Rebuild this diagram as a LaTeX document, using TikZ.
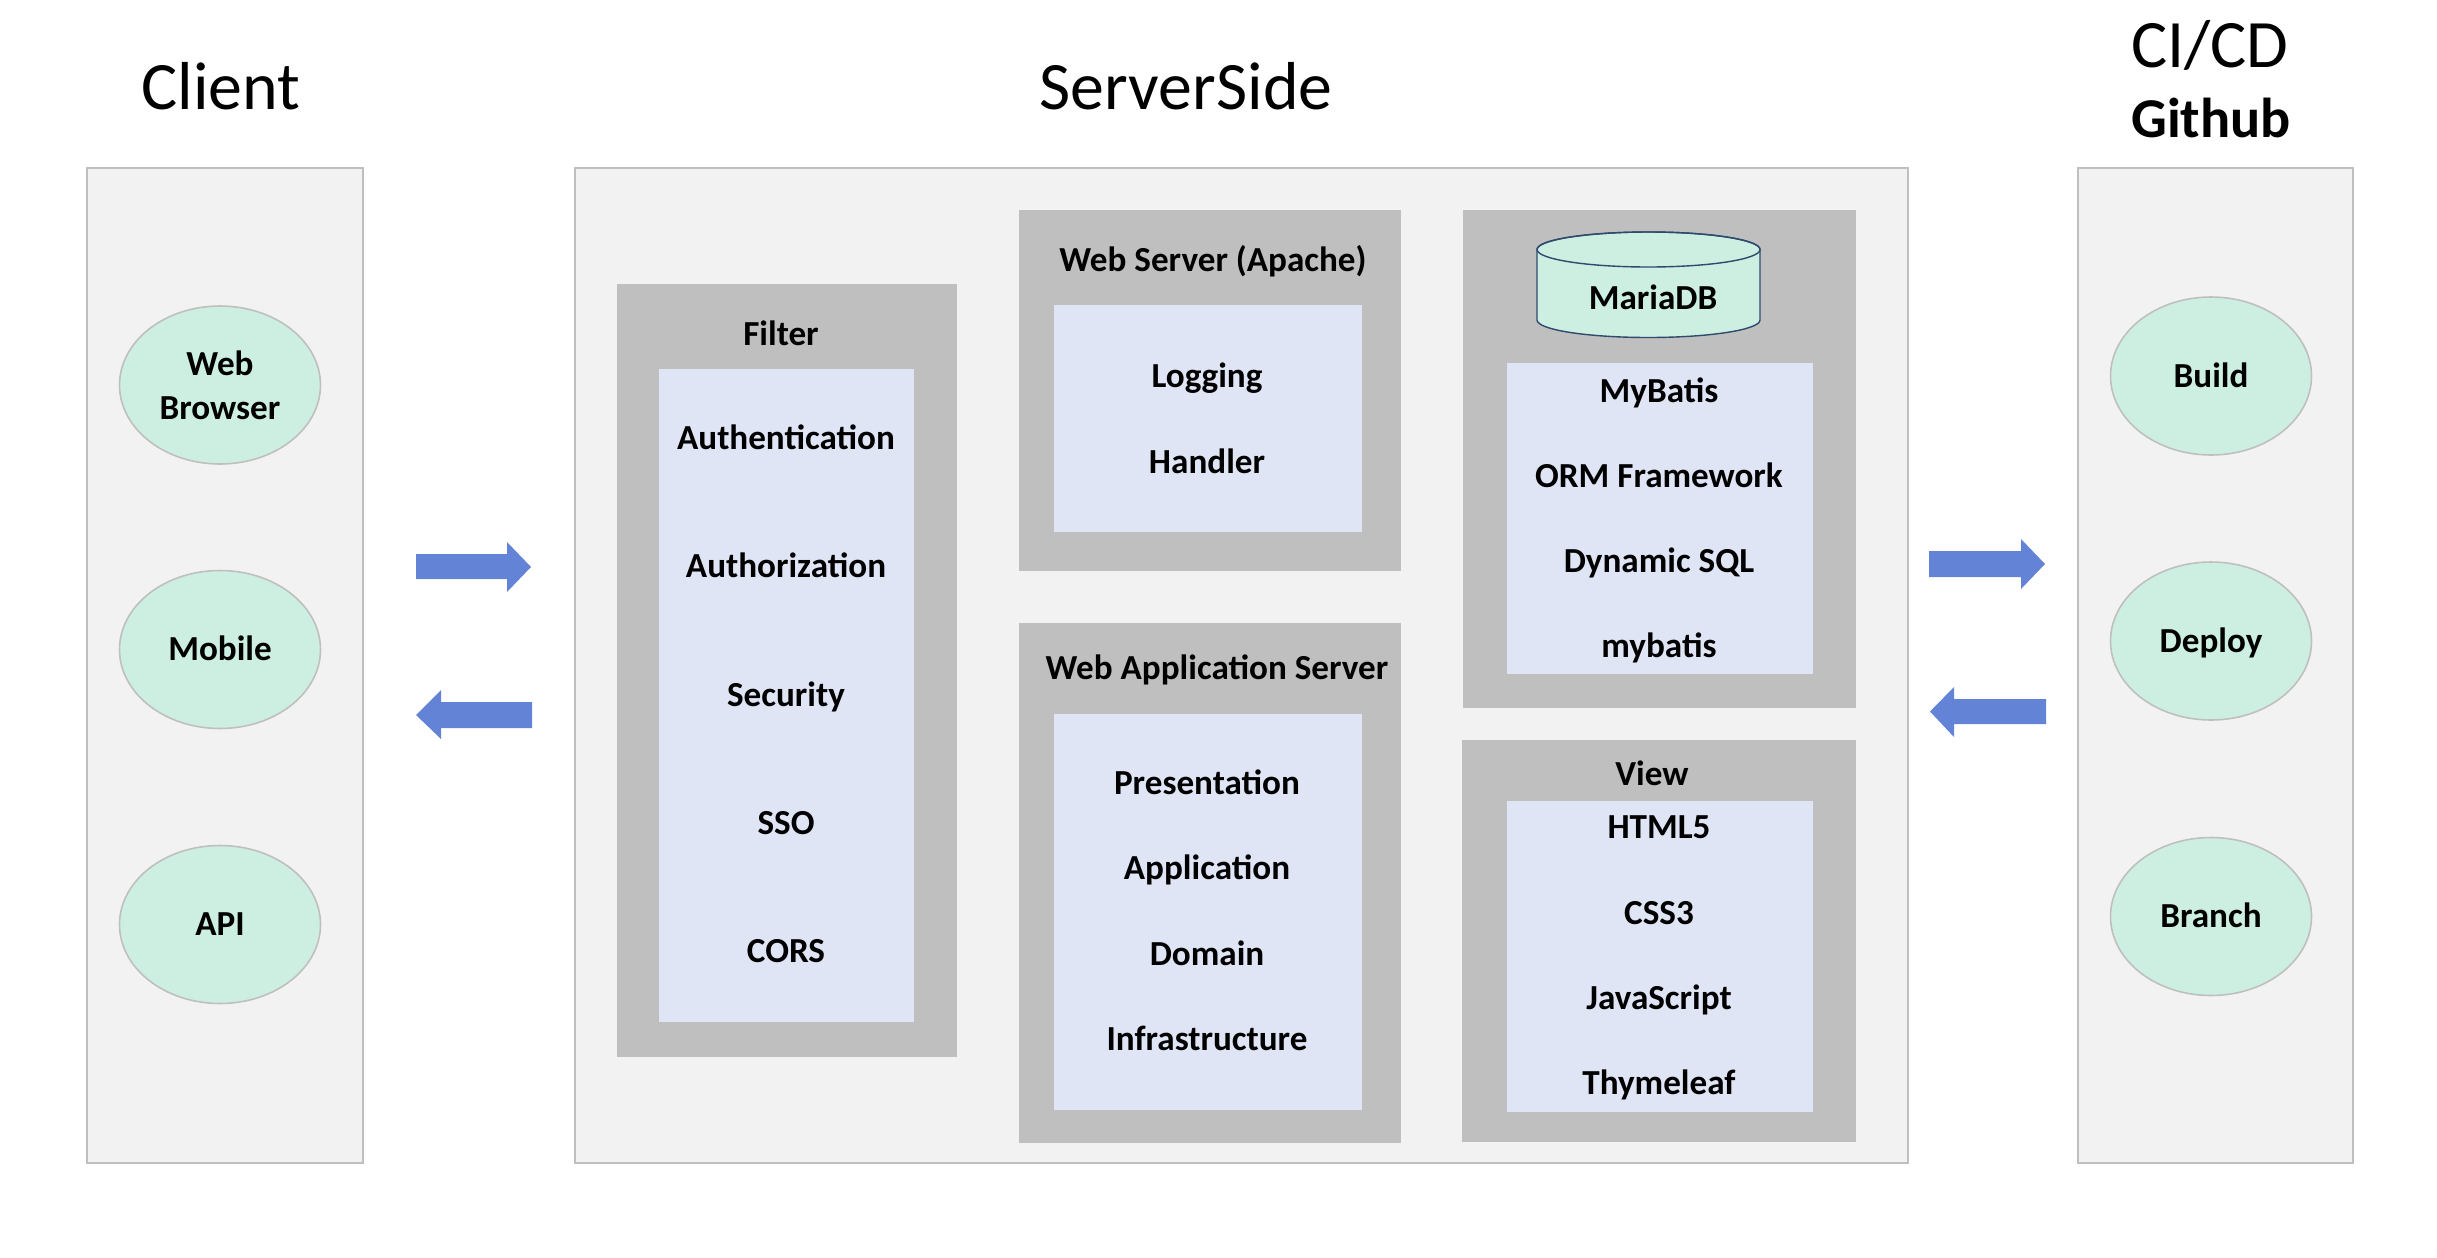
\documentclass[tikz,border=0pt]{standalone}
\usepackage{fontspec}
\setmainfont{Carlito}
\usetikzlibrary{shapes.geometric}

\definecolor{panelgray}{HTML}{F2F2F2}
\definecolor{edgegray}{HTML}{BFBFBF}
\definecolor{layergray}{HTML}{BFBFBF}
\definecolor{layerblue}{HTML}{DFE5F5}
\definecolor{mint}{HTML}{CCEFE1}
\definecolor{flowblue}{HTML}{6383D6}
\definecolor{dbedge}{HTML}{2F4A6D}

\tikzset{
  panel/.style={fill=panelgray,draw=edgegray,line width=.45pt},
  layer/.style={fill=layergray},
  sublayer/.style={fill=layerblue},
  heading/.style={inner sep=0pt,text height=12.2pt,text depth=0pt,font=\fontsize{19.3}{23}\selectfont},
  item/.style={inner sep=0pt,text height=6.3pt,text depth=0pt,font=\bfseries\fontsize{10}{12.5}\selectfont},
  actor/.style={ellipse,fill=mint,draw=edgegray,line width=.45pt,minimum width=20.1mm,minimum height=15.8mm,
                inner sep=0pt,align=center,font=\bfseries\fontsize{10}{12.5}\selectfont},
  oneline/.style={text height=6.3pt,text depth=0pt},
  flow/.style={fill=flowblue}
}

\begin{document}
\begin{tikzpicture}[x=.1mm,y=-.1mm]
    \useasboundingbox (0,0) rectangle (2437,1257);
    % Headings ==============================================
    \node[heading] (client) at (221,88)  {Client};
    \node[heading] (server) at (1186,88) {ServerSide};
    \node[heading] (cicd)   at (2210,46) {CI/CD};
    \node[heading,font=\bfseries\fontsize{16}{19}\selectfont,text height=10.1pt] (github) at (2211,119.5) {Github};
    % Panels ================================================
    \filldraw[panel] (87,168)   rectangle (363,1163);
    \filldraw[panel] (575,168)  rectangle (1908,1163);
    \filldraw[panel] (2078,168) rectangle (2353,1163);
    % Client ================================================
    \node[actor]         (browser) at (220,385)   {Web\\Browser};
    \node[actor,oneline] (mobile)  at (220,649.5) {Mobile};
    \node[actor,oneline] (api)     at (220,924.5) {API};
    % Filter ================================================
    \fill[layer]    (617,284) rectangle (957,1057);
    \fill[sublayer] (659,369) rectangle (914,1022);
    \node[item] (filter) at (781,334)   {Filter};
    \node[item] (authn)  at (786,438.5) {Authentication};
    \node[item] (authz)  at (786,566.5) {Authorization};
    \node[item] (secu)   at (786,695)   {Security};
    \node[item] (sso)    at (786,823)   {SSO};
    \node[item] (cors)   at (786,951)   {CORS};
    % Web server ============================================
    \fill[layer]    (1019,210) rectangle (1401,571);
    \fill[sublayer] (1054,305) rectangle (1362,532);
    \node[item] (apache)  at (1213,260) {Web Server (Apache)};
    \node[item] (logging) at (1207,376) {Logging};
    \node[item] (handler) at (1207,462) {Handler};
    % Web application server ================================
    \fill[layer]    (1019,623) rectangle (1401,1143);
    \fill[sublayer] (1054,714) rectangle (1362,1110);
    \node[item] (was)    at (1217,668)  {Web Application Server};
    \node[item] (pres)   at (1207,783)  {Presentation};
    \node[item] (appl)   at (1207,868)  {Application};
    \node[item] (domain) at (1207,954)  {Domain};
    \node[item] (infra)  at (1207,1039) {Infrastructure};
    % Database ==============================================
    \fill[layer]    (1463,210) rectangle (1856,708);
    \fill[sublayer] (1507,363) rectangle (1813,674);
    \filldraw[fill=mint,draw=dbedge,line width=.4pt] (1537,249.5) -- (1537,320)
        arc[start angle=180,end angle=0,x radius=111.5,y radius=17.5] -- (1760,249.5)
        arc[start angle=0,end angle=-180,x radius=111.5,y radius=17.5] -- cycle;
    \draw[dbedge,line width=.4pt] (1648.5,249.5) ellipse[x radius=111.5,y radius=17.5];
    \node[item] (mariadb) at (1653,298) {MariaDB};
    \node[item] (mybatis) at (1659,391) {MyBatis};
    \node[item] (orm)     at (1659,476) {ORM Framework};
    \node[item] (dynsql)  at (1659,561) {Dynamic SQL};
    \node[item] (mbsmall) at (1659,646) {mybatis};
    % View ==================================================
    \fill[layer]    (1462,740) rectangle (1856,1142);
    \fill[sublayer] (1507,801) rectangle (1813,1112);
    \node[item] (view)  at (1652,774)  {View};
    \node[item] (html)  at (1659,827)  {HTML5};
    \node[item] (css)   at (1659,913)  {CSS3};
    \node[item] (js)    at (1659,998)  {JavaScript};
    \node[item] (thyme) at (1659,1083) {Thymeleaf};
    % CI/CD =================================================
    \node[actor,oneline] (build)  at (2211,376)   {Build};
    \node[actor,oneline] (deploy) at (2211,641)   {Deploy};
    \node[actor,oneline] (branch) at (2211,916.5) {Branch};
    % Request / response arrows
    \fill[flow] (416,554) -- (507,554) -- (507,542) -- (531,567) -- (507,592) -- (507,579) -- (416,579) -- cycle;
    \fill[flow] (416,715) -- (441,690) -- (441,702) -- (532,702) -- (532,728) -- (441,728) -- (441,739) -- cycle;
    \fill[flow] (1929,551) -- (2021,551) -- (2021,539) -- (2045,564) -- (2021,589) -- (2021,577) -- (1929,577) -- cycle;
    \fill[flow] (1930,711.5) -- (1954,687) -- (1954,699) -- (2046,699) -- (2046,724) -- (1954,724) -- (1954,737) -- cycle;
\end{tikzpicture}
\end{document}
